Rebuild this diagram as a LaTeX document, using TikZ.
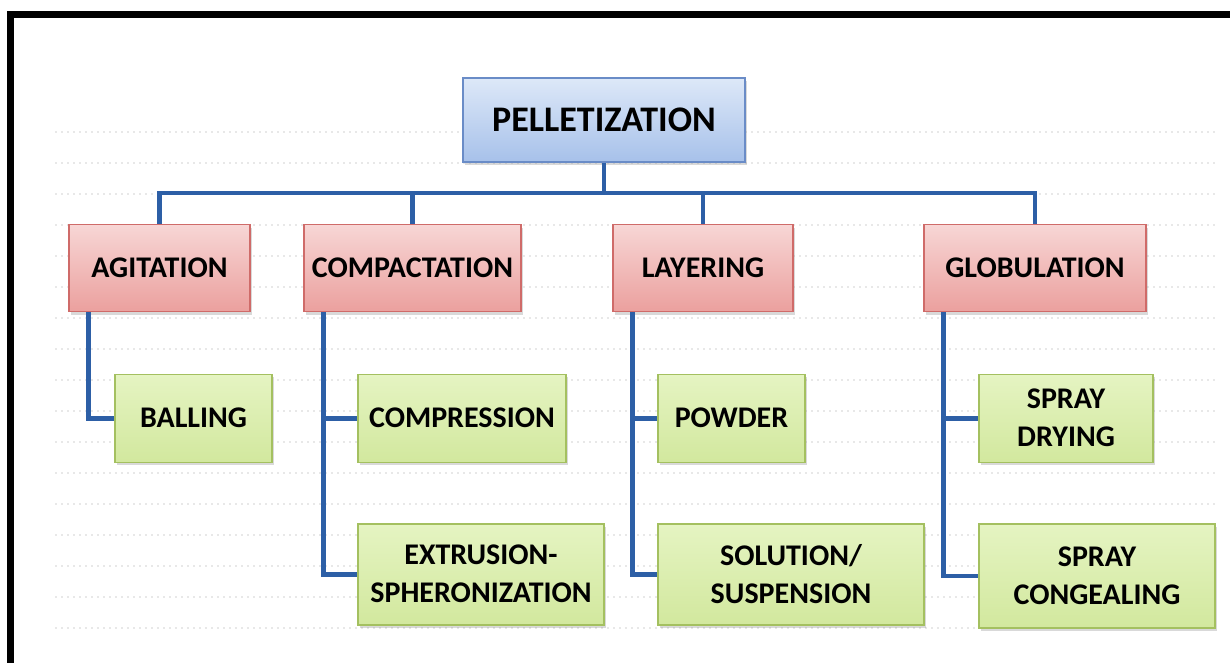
\documentclass[tikz,border=0pt]{standalone}
\usepackage{fontspec}
\setmainfont{Carlito}
\usepackage{xcolor}
\usepackage{tikz}
\usetikzlibrary{positioning, shadows}

\definecolor{roottop}{HTML}{DDE8F8}
\definecolor{rootbot}{HTML}{A7C1EA}
\definecolor{rootline}{HTML}{6A8CC7}
\definecolor{methtop}{HTML}{F7D6D5}
\definecolor{methbot}{HTML}{EBA09E}
\definecolor{methline}{HTML}{CF6B69}
\definecolor{subtop}{HTML}{E5F4C2}
\definecolor{subbot}{HTML}{D2E89E}
\definecolor{subline}{HTML}{A4C060}
\definecolor{linkblue}{HTML}{2D5FA6}

\begin{document}
\begin{tikzpicture}[x=1pt, y=-1pt, node distance=60pt,
    box/.style={draw, line width=1.5pt, align=center, inner sep=2pt,
        drop shadow={opacity=0.3, shadow xshift=1.5pt, shadow yshift=-3pt}},
    rootbox/.style={box, draw=rootline, top color=roottop, bottom color=rootbot,
        font=\bfseries\fontsize{36}{40}\selectfont},
    methodbox/.style={box, draw=methline, top color=methtop, bottom color=methbot,
        minimum height=87pt, font=\bfseries\fontsize{30}{36}\selectfont},
    subbox/.style={box, draw=subline, top color=subtop, bottom color=subbot,
        font=\bfseries\fontsize{30}{38}\selectfont},
    link/.style={draw=linkblue, line width=4.5pt}
]

    \useasboundingbox (0,0) rectangle (1230,663);

    % Faint dotted background
    \foreach \y in {132,163,...,640} {
        \draw[black!9, line width=1.5pt, dash pattern=on 1.5pt off 4.5pt] (55,\y) -- (1215,\y);
    }

    % Frame
    \draw[line width=7pt] (10.5,663) -- (10.5,14.5) -- (1230,14.5);

    % Root
    \node[rootbox, minimum width=282pt, minimum height=84pt] (pellet) at (604,120) {PELLETIZATION};

    % Methods
    \node[methodbox, below=61pt of pellet, xshift=-444.5pt, minimum width=181pt] (agitation) {AGITATION};
    \node[methodbox, below=61pt of pellet, xshift=-191.5pt, minimum width=217pt] (compactation) {COMPACTATION};
    \node[methodbox, below=61pt of pellet, xshift=99pt, minimum width=180pt] (layering) {LAYERING};
    \node[methodbox, below=61pt of pellet, xshift=431pt, minimum width=222pt] (globulation) {GLOBULATION};

    % Techniques, first row
    \node[subbox, below=106pt of agitation.south west, anchor=west, xshift=46pt,
        minimum width=157pt, minimum height=88pt] (balling) {BALLING};
    \node[subbox, below=106pt of compactation.south west, anchor=west, xshift=54pt,
        minimum width=208pt, minimum height=88pt] (compression) {COMPRESSION};
    \node[subbox, below=106pt of layering.south west, anchor=west, xshift=45pt,
        minimum width=147pt, minimum height=88pt] (powder) {POWDER};
    \node[subbox, below=106pt of globulation.south west, anchor=west, xshift=55pt,
        minimum width=174pt, minimum height=88pt] (drying) {SPRAY\\DRYING};

    % Techniques, second row
    \node[subbox, below=of compression.south west, anchor=north west,
        minimum width=246pt, minimum height=101pt] (extrusion) {EXTRUSION-\\SPHERONIZATION};
    \node[subbox, below=of powder.south west, anchor=north west,
        minimum width=266pt, minimum height=101pt] (solution) {SOLUTION/\\SUSPENSION};
    \node[subbox, below=of drying.south west, anchor=north west,
        minimum width=236pt, minimum height=104pt] (congealing) {SPRAY\\CONGEALING};

    % Connectors
    \coordinate[below=30pt of pellet] (bus);
    \draw[link] (pellet.south) -- (bus);
    \draw[link] (agitation.north) |- (bus) -| (globulation.north);
    \draw[link] (compactation.north) -- (compactation.north |- bus);
    \draw[link] (layering.north) -- (layering.north |- bus);

    \draw[link] ([xshift=20pt]agitation.south west) |- (balling.west);
    \draw[link] ([xshift=20pt]compactation.south west) |- (compression.west);
    \draw[link] ([xshift=20pt]compactation.south west) |- (extrusion.west);
    \draw[link] ([xshift=20pt]layering.south west) |- (powder.west);
    \draw[link] ([xshift=20pt]layering.south west) |- (solution.west);
    \draw[link] ([xshift=20pt]globulation.south west) |- (drying.west);
    \draw[link] ([xshift=20pt]globulation.south west) |- (congealing.west);

\end{tikzpicture}
\end{document}
